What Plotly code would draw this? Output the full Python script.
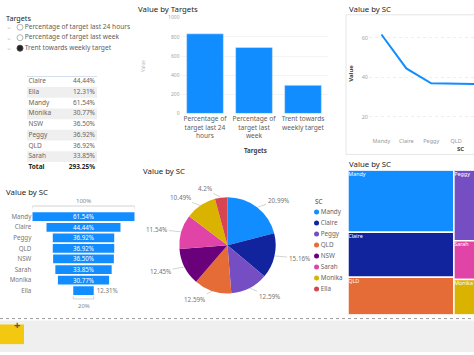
import math
import plotly.graph_objects as go

W, H = 474, 355


def X(px):
    return px / W


def Y(py):
    return 1 - py / H


FONT = "Segoe UI, Noto Sans, Open Sans, sans-serif"
TITLE_C = "#252423"
TEXT_C = "#605E5C"
LIGHT_C = "#a6a6a6"

# ---------------- data ----------------
slicer_title = "Targets"
slicer_items = ["Percentage of target last 24 hours",
                "Percentage of target last week",
                "Trent towards weekly target"]
slicer_selected = [False, False, True]

target_labels = ["Percentage of<br>target last 24<br>hours",
                 "Percentage of<br>target last<br>week",
                 "Trent towards<br>weekly target"]
target_values = [832, 690, 293.25]
target_ticks = [0, 200, 400, 600, 800, 1000]

sc_names = ["Mandy", "Claire", "Peggy", "QLD", "NSW", "Sarah", "Monika", "Ella"]
sc_values = [61.54, 44.444, 36.92, 36.92, 36.50, 33.85, 30.77, 12.31]
sc_colors = ["#118DFF", "#12239E", "#744EC2", "#E66C37",
             "#6B007B", "#E044A7", "#D9B300", "#D64550"]
line_ticks = [20, 40, 60]

# treemap grouping (Power BI layout order)
tm_col1 = ["Mandy", "Claire", "QLD"]
tm_top = ["Peggy", "NSW"]
tm_bottom_col = ["Sarah", "Monika"]
tm_last = ["Ella"]

sc_map = dict(zip(sc_names, sc_values))
col_map = dict(zip(sc_names, sc_colors))
total = sum(sc_values)

fig = go.Figure()
shapes = []
ann = []

# ---------------- slicer ----------------
fig.add_trace(go.Scatter(
    x=[20] * len(slicer_items), y=list(range(len(slicer_items))),
    mode="markers+text", text=slicer_items, textposition="middle right",
    textfont=dict(size=6.6, color=TEXT_C, family=FONT),
    marker=dict(size=6,
                symbol=["circle" if s else "circle-open" for s in slicer_selected],
                color=["#252423" if s else "#b5b5b5" for s in slicer_selected],
                line=dict(width=1)),
    xaxis="x6", yaxis="y6", hoverinfo="skip", showlegend=False, cliponaxis=False))

# ---------------- table (text on its own axes) ----------------
tbl_names = sorted(sc_names)
tbl_vals = [sc_map[n] for n in tbl_names]
col1 = tbl_names + ["<b>Total</b>"]
col2 = [f"{v:.2f}%" for v in tbl_vals] + [f"<b>{total:.2f}%</b>"]
fcols = ["#666666"] * len(tbl_names) + ["#252423"]
rows = list(range(len(col1)))
for i in rows[:-1]:
    if i % 2 == 1:
        shapes.append(dict(type="rect", xref="x7", yref="y7", x0=0, x1=70,
                           y0=i - 0.5, y1=i + 0.5, fillcolor="#efefef",
                           line=dict(width=0), layer="below"))
shapes.append(dict(type="line", xref="x7", yref="y7", x0=0, x1=70, y0=-0.5, y1=-0.5,
                   line=dict(color="#c5d5e6", width=1.5)))
fig.add_trace(go.Scatter(
    x=[1.5] * len(col1), y=rows, mode="text", text=col1, textposition="middle right",
    textfont=dict(size=6.5, color=fcols, family=FONT),
    xaxis="x7", yaxis="y7", hoverinfo="skip", showlegend=False, cliponaxis=False))
fig.add_trace(go.Scatter(
    x=[68] * len(col2), y=rows, mode="text", text=col2, textposition="middle left",
    textfont=dict(size=6.5, color=fcols, family=FONT),
    xaxis="x7", yaxis="y7", hoverinfo="skip", showlegend=False, cliponaxis=False))

# ---------------- bar chart (Value by Targets) ----------------
fig.add_trace(go.Bar(x=target_labels, y=target_values, marker=dict(color="#118DFF"),
                     xaxis="x", yaxis="y", hoverinfo="skip", showlegend=False))

# ---------------- line chart ----------------
fig.add_trace(go.Scatter(x=sc_names, y=sc_values, mode="lines",
                         line=dict(color="#118DFF", width=2),
                         xaxis="x2", yaxis="y2", hoverinfo="skip", showlegend=False))

# ---------------- funnel ----------------
v0, vN = sc_values[0], sc_values[-1]
fig.add_trace(go.Funnel(
    y=sc_names, x=sc_values, marker=dict(color="#118DFF"),
    texttemplate="%{x:.2f}%",
    textposition=["inside" if v / v0 > 0.3 else "outside" for v in sc_values],
    constraintext="none",
    insidetextfont=dict(color="white", size=6.2, family=FONT),
    outsidetextfont=dict(color="#777777", size=6.2, family=FONT),
    connector=dict(visible=False), cliponaxis=False,
    xaxis="x3", yaxis="y3", hoverinfo="skip", showlegend=False))

# ---------------- pie ----------------
pie_x = (178.5, 276.5)
pie_y = (197.5, 295.5)
fig.add_trace(go.Pie(
    labels=sc_names, values=sc_values, sort=False, direction="clockwise",
    marker=dict(colors=sc_colors, line=dict(width=0)), textinfo="none",
    domain=dict(x=[X(pie_x[0]), X(pie_x[1])], y=[Y(pie_y[1]), Y(pie_y[0])]),
    hoverinfo="skip", showlegend=False))

# pie legend
fig.add_trace(go.Scatter(
    x=[0.12] * len(sc_names), y=sc_names, mode="markers+text",
    marker=dict(color=sc_colors, size=5), text=sc_names, textposition="middle right",
    textfont=dict(size=6.3, color="#666666", family=FONT),
    xaxis="x5", yaxis="y5", hoverinfo="skip", showlegend=False, cliponaxis=False))

# ---------------- treemap (drawn as tiles) ----------------
rects = []
w1 = sum(sc_map[n] for n in tm_col1)
ytop = 1.0
for n in tm_col1:
    h = sc_map[n] / w1
    rects.append((n, 0.0, w1, ytop - h, ytop))
    ytop -= h
wr = total - w1
h_top = sum(sc_map[n] for n in tm_top) / wr
xc = w1
for n in tm_top:
    w = sc_map[n] / h_top
    rects.append((n, xc, xc + w, 1 - h_top, 1.0))
    xc += w
h_b = 1 - h_top
wb = sum(sc_map[n] for n in tm_bottom_col) / h_b
ytop = h_b
for n in tm_bottom_col:
    h = sc_map[n] / wb
    rects.append((n, w1, w1 + wb, ytop - h, ytop))
    ytop -= h
xc = w1 + wb
for n in tm_last:
    w = sc_map[n] / h_b
    rects.append((n, xc, xc + w, 0.0, h_b))
    xc += w

fig.add_trace(go.Bar(
    x=[(r[1] + r[2]) / 2 for r in rects], width=[r[2] - r[1] for r in rects],
    base=[r[3] for r in rects], y=[r[4] - r[3] for r in rects],
    marker=dict(color=[col_map[r[0]] for r in rects], line=dict(color="white", width=1.5)),
    xaxis="x4", yaxis="y4", hoverinfo="skip", showlegend=False))
fig.add_trace(go.Scatter(
    x=[r[1] + 0.4 for r in rects], y=[r[4] - 0.012 for r in rects], mode="text",
    text=[r[0] for r in rects], textposition="bottom right",
    textfont=dict(size=5.4, color="white", family=FONT),
    xaxis="x4", yaxis="y4", hoverinfo="skip", showlegend=False))


# ---------------- annotations ----------------
def text(px, py, s, size=7.5, color=TITLE_C, xanchor="left", angle=0):
    ann.append(dict(x=X(px), y=Y(py), xref="paper", yref="paper", text=s,
                    showarrow=False, xanchor=xanchor, yanchor="middle", textangle=angle,
                    font=dict(size=size, color=color, family=FONT)))


text(4, 15, slicer_title, 7.2)
for i in range(len(slicer_items)):
    text(9, 24 + i * 10.7, "⌄", 7, "#c8c8c8", "center")
text(136, 6.5, "Value by Targets", 7.8)
text(255, 150, "<b>Targets</b>", 6.2, "#444444", "center")
text(143, 64, "Value", 4.5, "#bbbbbb", "center", -90)
text(347, 6.5, "Value by SC", 7.8)
text(351, 72, "<b>Value</b>", 6, "#444444", "center", -90)
text(460, 149, "<b>SC</b>", 6, "#444444", "center")
text(4, 192, "Value by SC", 7.8)
text(141, 171, "Value by SC", 7.8)
text(313, 201.5, "SC", 6.3, "#444444")
text(347, 163.5, "Value by SC", 7.8)

# funnel brackets
ann.append(dict(x=0, y=Y(201.5), xref="x3", yref="paper", text="100%", showarrow=False,
                yanchor="middle", font=dict(size=6, color="#888888", family=FONT)))
ann.append(dict(x=0, y=Y(308), xref="x3", yref="paper",
                text=f"{round(vN / v0 * 100)}%", showarrow=False, yanchor="middle",
                font=dict(size=6, color="#888888", family=FONT)))
for (vv, yy, d) in [(v0, 206.5, 1), (vN, 301, -1)]:
    shapes.append(dict(type="line", xref="x3", yref="paper", x0=-vv / 2, x1=vv / 2,
                       y0=Y(yy), y1=Y(yy), line=dict(color="#c8c8c8", width=0.8)))
    for xe in (-vv / 2, vv / 2):
        shapes.append(dict(type="line", xref="x3", yref="paper", x0=xe, x1=xe,
                           y0=Y(yy), y1=Y(yy + 2.5 * d), line=dict(color="#c8c8c8", width=0.8)))

# pie labels with leader lines
cx, cy = (pie_x[0] + pie_x[1]) / 2, (pie_y[0] + pie_y[1]) / 2
r = min(pie_x[1] - pie_x[0], pie_y[1] - pie_y[0]) / 2
cum = 0.0
for n, v in zip(sc_names, sc_values):
    th = 2 * math.pi * (cum + v / 2) / total
    cum += v
    dx, dy = math.sin(th), -math.cos(th)
    ex, ey = cx + r * dx, cy + r * dy
    pct = f"{v / total * 100:.2f}".rstrip("0").rstrip(".") + "%"
    lx = ex + 9 * dx + (15 if dx >= 0 else -15)
    ly = ey + 9 * dy
    ann.append(dict(x=X(ex), y=Y(ey), xref="paper", yref="paper", text=pct,
                    showarrow=True, arrowhead=0, arrowwidth=0.7, arrowcolor="#c0c0c0",
                    ax=lx - ex, ay=ly - ey, standoff=0, startstandoff=0,
                    font=dict(size=6.3, color="#777777", family=FONT)))

# line chart border
shapes.append(dict(type="rect", xref="paper", yref="paper", x0=X(346), x1=X(480),
                   y0=Y(154), y1=Y(12), line=dict(color="#e6e6e6", width=1)))
# bottom page area
shapes.append(dict(type="rect", xref="paper", yref="paper", x0=0, x1=1, y0=0, y1=Y(323),
                   fillcolor="#efefef", line=dict(width=0), layer="below"))
shapes.append(dict(type="line", xref="paper", yref="paper", x0=0, x1=1, y0=Y(321), y1=Y(321),
                   line=dict(color="#9a9a9a", width=1, dash="dot")))
shapes.append(dict(type="rect", xref="paper", yref="paper", x0=0, x1=X(24), y0=Y(347), y1=Y(327),
                   fillcolor="#F2C811", line=dict(width=0)))
ann.append(dict(x=X(12), y=Y(337), xref="paper", yref="paper", text="<b>+</b>", showarrow=False,
                font=dict(size=11, color="#555555", family=FONT)))

hidden = dict(visible=False, fixedrange=True)

fig.update_layout(
    width=W, height=H, autosize=False, margin=dict(l=0, r=0, t=0, b=0),
    paper_bgcolor="white", plot_bgcolor="rgba(0,0,0,0)",
    font=dict(family=FONT, color=TEXT_C), hovermode=False,
    bargap=0.25, funnelgap=0.17, barmode="overlay",
    annotations=ann, shapes=shapes,
    xaxis=dict(domain=[X(180.5), X(327.5)], anchor="y", type="category",
               tickfont=dict(size=6.6, color=TEXT_C), showgrid=False, showline=False,
               ticks="", fixedrange=True),
    yaxis=dict(domain=[Y(112.3), Y(15)], anchor="x", range=[0, 1000], tickvals=target_ticks,
               ticksuffix="%", tickfont=dict(size=5, color=LIGHT_C), showgrid=True,
               gridcolor="#f4f4f4", zeroline=False, ticks="", fixedrange=True),
    xaxis2=dict(domain=[X(369), 1], anchor="y2", type="category", range=[-0.5, 3.72],
                tickfont=dict(size=5.5, color="#999999"), showgrid=False, ticks="",
                fixedrange=True),
    yaxis2=dict(domain=[Y(136), Y(15)], anchor="x2", range=[10, 70], tickvals=line_ticks,
                ticksuffix="%", tickfont=dict(size=5.5, color=LIGHT_C), showgrid=True,
                gridcolor="#eeeeee", griddash="dot", zeroline=False, ticks="",
                fixedrange=True),
    xaxis3=dict(domain=[X(32.3), X(134.7)], anchor="y3", range=[-v0 / 2, v0 / 2], **hidden),
    yaxis3=dict(domain=[Y(298), Y(212)], anchor="x3", autorange="reversed",
                tickfont=dict(size=6.2, color="#777777"), showgrid=False, ticks="",
                showline=False, fixedrange=True),
    xaxis4=dict(domain=[X(348), 1], anchor="y4", range=[0, 170], **hidden),
    yaxis4=dict(domain=[Y(317), Y(170)], anchor="x4", range=[0, 1], **hidden),
    xaxis5=dict(domain=[X(312), X(350)], anchor="y5", range=[0, 1], **hidden),
    yaxis5=dict(domain=[Y(296.6), Y(207.1)], anchor="x5", type="category",
                range=[len(sc_names) - 0.5, -0.5], **hidden),
    xaxis6=dict(domain=[0, X(140)], anchor="y6", range=[0, 140], **hidden),
    yaxis6=dict(domain=[Y(51.3), Y(19.3)], anchor="x6", range=[2.5, -0.5], **hidden),
    xaxis7=dict(domain=[X(27), X(97)], anchor="y7", range=[0, 70], **hidden),
    yaxis7=dict(domain=[Y(172.7), Y(74.5)], anchor="x7", range=[len(col1) - 0.5, -0.5],
                **hidden),
)

fig.write_html("out.html", config={"displayModeBar": False, "staticPlot": True},
               post_script="document.body.style.margin='0px';")
